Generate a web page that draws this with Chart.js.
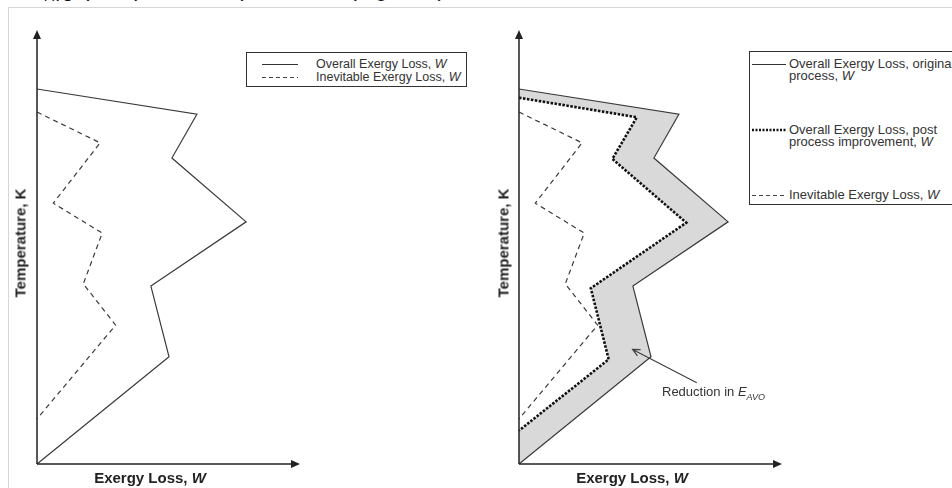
<!DOCTYPE html>
<html>
<head>
<meta charset="utf-8">
<script src="https://cdn.jsdelivr.net/npm/chart.js@4.4.1/dist/chart.umd.min.js"></script>
<style>
  html, body { margin: 0; padding: 0; background: #fff; }
  #wrap { position: relative; width: 952px; height: 488px; overflow: hidden; font-family: "Liberation Sans", Arial, sans-serif; color: #222; }
  canvas { position: absolute; top: 0; }
  .frame { position: absolute; left: 8px; top: 7px; width: 960px; height: 500px; border-top: 1px solid #d6d6d6; border-left: 1px solid #d6d6d6; }
  .caption { position: absolute; left: 30px; top: -24px; font-size: 22px; white-space: nowrap; color: #111; }
  .caption sub { font-size: 14px; }
  .legend { position: absolute; border: 1px solid #333; background: #fff; font-size: 12.5px; color: #333; }
  .item { position: absolute; white-space: nowrap; line-height: 12px; }
  .item svg { position: absolute; }
  .xtitle { position: absolute; font-weight: bold; font-size: 15px; white-space: nowrap; transform: translateX(-50%); }
  .ytitle { position: absolute; font-weight: bold; font-size: 15px; white-space: nowrap; transform: translate(-50%, -50%) rotate(-90deg); }
  .note { position: absolute; font-size: 13px; color: #333; white-space: nowrap; }
  .note sub { font-size: 9px; }
</style>
</head>
<body>
<div id="wrap">
  <div class="frame"></div>
  <div class="caption">E<sub>AVO</sub>, post process improvement (Figure 4)</div>
  <canvas id="leftChart" width="480" height="488" style="left:0"></canvas>
  <canvas id="rightChart" width="470" height="488" style="left:482px"></canvas>

  <div class="legend" style="left:246px; top:52px; width:219px; height:33px;">
    <div class="item" style="left:15px; top:5px;"><svg width="36" height="4" style="left:0; top:5px"><line x1="0" y1="1.5" x2="36" y2="1.5" stroke="#333" stroke-width="1"/></svg><span style="margin-left:54px">Overall Exergy Loss, <i>W</i></span></div>
    <div class="item" style="left:15px; top:18px;"><svg width="36" height="4" style="left:0; top:5px"><line x1="0" y1="1.5" x2="36" y2="1.5" stroke="#444" stroke-width="1" stroke-dasharray="4 3"/></svg><span style="margin-left:54px">Inevitable Exergy Loss, <i>W</i></span></div>
  </div>

  <div class="legend" style="left:749px; top:51px; width:230px; height:152px; font-size:13px;">
    <div class="item" style="left:2px; top:6px;"><svg width="34" height="4" style="left:0; top:5px"><line x1="0" y1="1.5" x2="34" y2="1.5" stroke="#333" stroke-width="1"/></svg><span style="margin-left:37px; display:inline-block; line-height:12px">Overall Exergy Loss, original<br>process, <i>W</i></span></div>
    <div class="item" style="left:2px; top:72px;"><svg width="34" height="4" style="left:0; top:4px"><line x1="0" y1="2" x2="34" y2="2" stroke="#111" stroke-width="2.5" stroke-dasharray="2 1.5"/></svg><span style="margin-left:37px; display:inline-block; line-height:12px">Overall Exergy Loss, post<br>process improvement, <i>W</i></span></div>
    <div class="item" style="left:2px; top:137px;"><svg width="34" height="4" style="left:0; top:5px"><line x1="0" y1="1.5" x2="34" y2="1.5" stroke="#444" stroke-width="1" stroke-dasharray="4 3"/></svg><span style="margin-left:37px">Inevitable Exergy Loss, <i>W</i></span></div>
  </div>

  <div class="xtitle" style="left:150px; top:469px;">Exergy Loss, <i>W</i></div>
  <div class="xtitle" style="left:632px; top:469px;">Exergy Loss, <i>W</i></div>
  <div class="ytitle" style="left:20px; top:243px;">Temperature, K</div>
  <div class="ytitle" style="left:503px; top:243px;">Temperature, K</div>
  <div class="note" style="left:662px; top:384px;">Reduction in <i>E<sub>AVO</sub></i></div>
</div>

<script>
// values (arbitrary units, 0-100 on both axes)
const overallLoss = [0, 60.8, 51.3, 79.5, 43.3, 50.2, 0];
const overallTemp = [86.4, 80.6, 70.5, 55.8, 41.0, 24.7, 0];

const inevitableLoss = [0, 24.0, 6.2, 24.8, 17.6, 29.9, 0];
const inevitableTemp = [81.1, 74.0, 60.1, 53.2, 41.5, 32.0, 10.4];

const improvedLoss = [0, 44.8, 35.5, 63.6, 27.3, 34.1, 0];
const improvedTemp = [84.4, 79.9, 70.3, 55.6, 40.5, 24.1, 7.7];

// arrow for "Reduction in E_AVO" label: tail then head
const noteArrowLoss = [67.6, 43.2];
const noteArrowTemp = [18.7, 26.4];

function pts(xs, ys) {
    return xs.map((x, i) => ({ x: x, y: ys[i] }));
}

// gray band between original and improved curves
const bandPoints = pts(overallLoss, overallTemp).concat(pts(improvedLoss, improvedTemp).reverse());

// axes with arrow heads, drawn along the chart area edges
const arrowAxes = {
    id: 'arrowAxes',
    afterDatasetsDraw(chart) {
        const ctx = chart.ctx;
        const a = chart.chartArea;
        ctx.save();
        ctx.strokeStyle = '#222';
        ctx.fillStyle = '#222';
        ctx.lineWidth = 1.5;
        ctx.beginPath();
        ctx.moveTo(a.left, a.bottom);
        ctx.lineTo(a.left, a.top + 6);
        ctx.moveTo(a.left, a.bottom);
        ctx.lineTo(a.right - 6, a.bottom);
        ctx.stroke();
        // up arrow
        ctx.beginPath();
        ctx.moveTo(a.left, a.top);
        ctx.lineTo(a.left - 4, a.top + 9);
        ctx.lineTo(a.left + 4, a.top + 9);
        ctx.closePath();
        ctx.fill();
        // right arrow
        ctx.beginPath();
        ctx.moveTo(a.right, a.bottom);
        ctx.lineTo(a.right - 9, a.bottom - 4);
        ctx.lineTo(a.right - 9, a.bottom + 4);
        ctx.closePath();
        ctx.fill();
        ctx.restore();
    }
};

const noteArrow = {
    id: 'noteArrow',
    afterDatasetsDraw(chart) {
        const xs = chart.scales.x, ys = chart.scales.y;
        const x1 = xs.getPixelForValue(noteArrowLoss[0]), y1 = ys.getPixelForValue(noteArrowTemp[0]);
        const x2 = xs.getPixelForValue(noteArrowLoss[1]), y2 = ys.getPixelForValue(noteArrowTemp[1]);
        const ang = Math.atan2(y2 - y1, x2 - x1);
        const ctx = chart.ctx;
        ctx.save();
        ctx.strokeStyle = '#404040';
        ctx.lineWidth = 1.2;
        ctx.beginPath();
        ctx.moveTo(x1, y1);
        ctx.lineTo(x2, y2);
        ctx.moveTo(x2 + 8 * Math.cos(ang + Math.PI - 0.45), y2 + 8 * Math.sin(ang + Math.PI - 0.45));
        ctx.lineTo(x2, y2);
        ctx.lineTo(x2 + 8 * Math.cos(ang + Math.PI + 0.45), y2 + 8 * Math.sin(ang + Math.PI + 0.45));
        ctx.stroke();
        ctx.restore();
    }
};

function baseOptions(rightPad) {
    return {
        responsive: false,
        animation: false,
        devicePixelRatio: 1,
        layout: { padding: { left: 37, top: 30, right: rightPad, bottom: 24 } },
        plugins: { legend: { display: false }, tooltip: { enabled: false } },
        elements: { point: { radius: 0, hoverRadius: 0 }, line: { tension: 0 } },
        scales: {
            x: { type: 'linear', min: 0, max: 100, display: false },
            y: { type: 'linear', min: 0, max: 100, display: false }
        }
    };
}

const overallSet = {
    label: 'Overall Exergy Loss, W',
    data: pts(overallLoss, overallTemp),
    borderColor: '#3a3a3a',
    borderWidth: 1.2,
    fill: false,
    clip: false
};
const inevitableSet = {
    label: 'Inevitable Exergy Loss, W',
    data: pts(inevitableLoss, inevitableTemp),
    borderColor: '#3a3a3a',
    borderWidth: 1.2,
    borderDash: [5, 4],
    fill: false,
    clip: false
};

new Chart(document.getElementById('leftChart'), {
    type: 'line',
    data: { datasets: [overallSet, inevitableSet] },
    options: baseOptions(180),
    plugins: [arrowAxes]
});

new Chart(document.getElementById('rightChart'), {
    type: 'line',
    data: {
        datasets: [
            Object.assign({}, overallSet, { data: pts(overallLoss, overallTemp), order: 1 }),
            {
                label: 'Overall Exergy Loss, post process improvement, W',
                data: pts(improvedLoss, improvedTemp),
                borderColor: '#111',
                borderWidth: 2.6,
                borderDash: [2.5, 1.5],
                fill: false,
                clip: false,
                order: 2
            },
            Object.assign({}, inevitableSet, { data: pts(inevitableLoss, inevitableTemp), order: 3 }),
            {
                label: 'Reduction',
                data: bandPoints,
                borderWidth: 0,
                borderColor: 'rgba(0,0,0,0)',
                backgroundColor: '#d9d9d9',
                fill: 'shape',
                clip: false,
                order: 10
            }
        ]
    },
    options: baseOptions(170),
    plugins: [arrowAxes, noteArrow]
});
</script>
</body>
</html>
